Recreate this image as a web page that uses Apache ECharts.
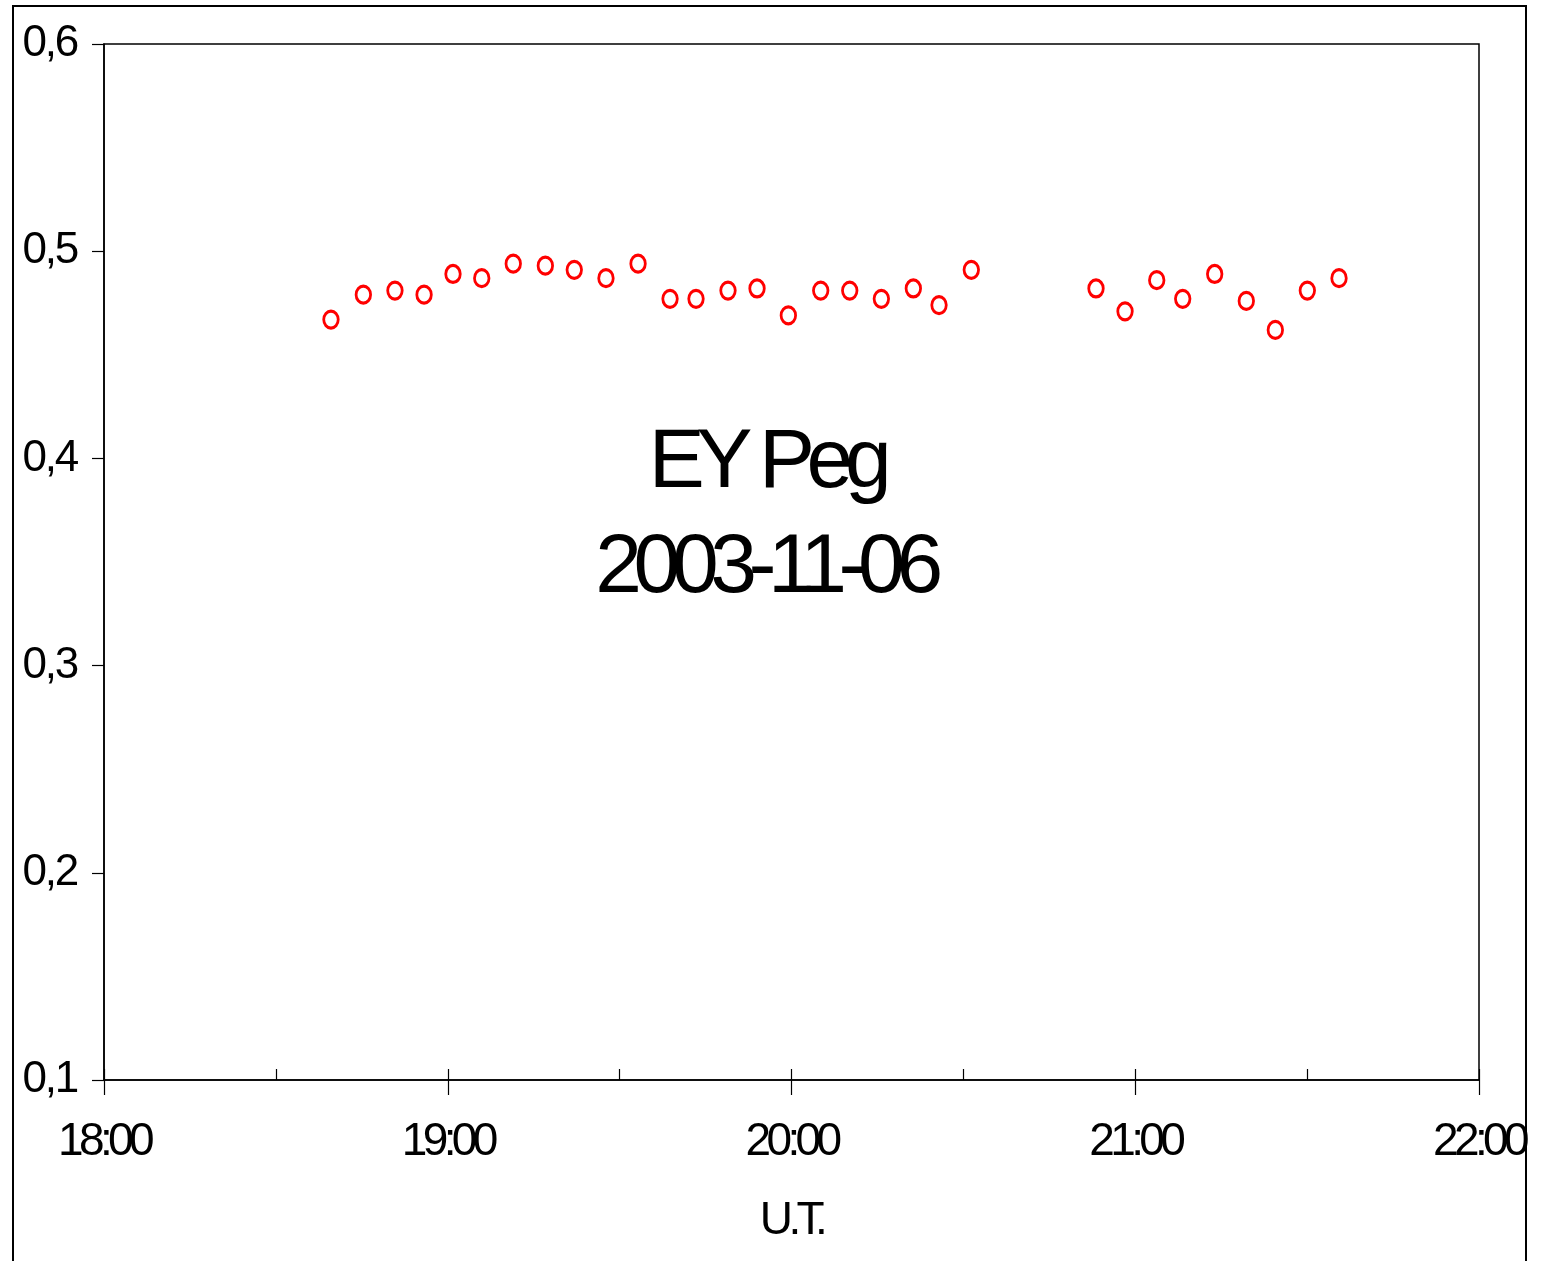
<!DOCTYPE html>
<html>
<head>
<meta charset="utf-8">
<script src="https://cdn.jsdelivr.net/npm/echarts@6/dist/echarts.min.js"></script>
<style>
html,body{margin:0;padding:0;background:#fff;}
#chart{width:1544px;height:1261px;}
</style>
</head>
<body>
<div id="chart"></div>
<script>
const times = [
  "18:39:37","18:45:16","18:50:47","18:55:52","19:00:55","19:05:56","19:11:26","19:17:02",
  "19:22:05","19:27:37","19:33:13","19:38:48","19:43:20","19:48:55","19:53:59","19:59:27",
  "20:05:06","20:10:10","20:15:41","20:21:16","20:25:45","20:31:23","20:53:09","20:58:13",
  "21:03:45","21:08:17","21:13:52","21:19:23","21:24:27","21:30:02","21:35:34"
];
const values = [
  0.467,0.479,0.481,0.479,0.489,0.487,0.494,0.493,
  0.491,0.487,0.494,0.477,0.477,0.481,0.482,0.469,
  0.481,0.481,0.477,0.482,0.474,0.491,0.482,0.471,
  0.486,0.477,0.489,0.476,0.462,0.481,0.487
];
const xTicks = [18, 19, 20, 21, 22];
const yTicks = [0.1, 0.2, 0.3, 0.4, 0.5, 0.6];
const titleLines = ["EY Peg", "2003-11-06"];
const xAxisTitle = "U.T.";

// Letter tracking per font stack, to imitate the reference typeface (style only)
(function () {
  const proto = window.CanvasRenderingContext2D && CanvasRenderingContext2D.prototype;
  if (!proto || !('letterSpacing' in proto)) return;
  function setLS(ctx) {
    const f = ctx.font || '';
    const m = /(\d+(?:\.\d+)?)px/.exec(f);
    let k = 0;
    if (f.indexOf('Arial') >= 0) k = -0.1;
    else if (f.indexOf('Helvetica') >= 0) k = -0.05;
    ctx.letterSpacing = (m && k) ? (k * parseFloat(m[1])).toFixed(2) + 'px' : '0px';
  }
  const ft = proto.fillText;
  proto.fillText = function () { setLS(this); return ft.apply(this, arguments); };
  const st = proto.strokeText;
  proto.strokeText = function () { setLS(this); return st.apply(this, arguments); };
  const mt = proto.measureText;
  proto.measureText = function () { setLS(this); return mt.apply(this, arguments); };
})();

function toHours(s) {
  const p = s.split(":").map(Number);
  return p[0] + p[1] / 60 + (p[2] || 0) / 3600;
}
const points = times.map((t, i) => [toHours(t), values[i]]);

const FONT_TIGHT = "'Liberation Sans', Arial, sans-serif";
const FONT_Y = "'Liberation Sans', Helvetica, sans-serif";

const chart = echarts.init(document.getElementById('chart'), null, {renderer: 'canvas'});
chart.setOption({
  backgroundColor: '#ffffff',
  animation: false,
  grid: {
    left: 104, top: 44, right: 65, bottom: 181,
    show: true, borderColor: '#000', borderWidth: 1.5, backgroundColor: 'transparent'
  },
  xAxis: [
    {
      type: 'value', position: 'bottom',
      min: xTicks[0], max: xTicks[xTicks.length - 1], interval: 1,
      axisLine: {onZero: false, lineStyle: {color: '#000', width: 1.5}},
      axisTick: {show: true, inside: false, length: 15, lineStyle: {color: '#000', width: 1.2}},
      splitLine: {show: false},
      axisLabel: {
        margin: 42, color: '#000', fontSize: 46, fontFamily: FONT_TIGHT,
        formatter: v => (xTicks.indexOf(v) >= 0 ? v + ':00' : '')
      },
      name: xAxisTitle, nameLocation: 'middle', nameGap: 121,
      nameTextStyle: {color: '#000', fontSize: 46, fontFamily: FONT_TIGHT}
    },
    {
      type: 'value', position: 'bottom',
      min: xTicks[0], max: xTicks[xTicks.length - 1], interval: 0.5,
      axisLine: {show: false, onZero: false},
      axisTick: {show: true, inside: true, length: 11, lineStyle: {color: '#000', width: 1.2}},
      splitLine: {show: false},
      axisLabel: {show: false}
    }
  ],
  yAxis: {
    type: 'value',
    min: yTicks[0], max: yTicks[yTicks.length - 1], interval: 0.1,
    axisLine: {show: true, onZero: false, lineStyle: {color: '#000', width: 1.5}},
    axisTick: {show: true, inside: false, length: 12, lineStyle: {color: '#000', width: 1.2}},
    splitLine: {show: false},
    axisLabel: {
      margin: 27, color: '#000', fontSize: 44, fontFamily: FONT_Y,
      formatter: v => v.toFixed(1).replace('.', ',')
    }
  },
  series: [{
    type: 'scatter',
    xAxisIndex: 0,
    data: points,
    symbol: 'circle',
    symbolSize: [14.5, 17],
    itemStyle: {color: '#ffffff', borderColor: '#ff0000', borderWidth: 3, opacity: 1},
    emphasis: {disabled: true}
  }],
  graphic: [
    {
      type: 'rect', silent: true, z: 100,
      shape: {x: 13, y: 6, width: 1513, height: 1270},
      style: {fill: 'none', stroke: '#000', lineWidth: 2}
    },
    {
      type: 'text', silent: true, z: 100, x: 766, y: 464,
      style: {text: titleLines[0], fill: '#000', fontSize: 84, fontFamily: FONT_TIGHT,
              textAlign: 'center', textVerticalAlign: 'middle'}
    },
    {
      type: 'text', silent: true, z: 100, x: 765, y: 569,
      style: {text: titleLines[1], fill: '#000', fontSize: 84, fontFamily: FONT_TIGHT,
              textAlign: 'center', textVerticalAlign: 'middle'}
    }
  ]
});
</script>
</body>
</html>
